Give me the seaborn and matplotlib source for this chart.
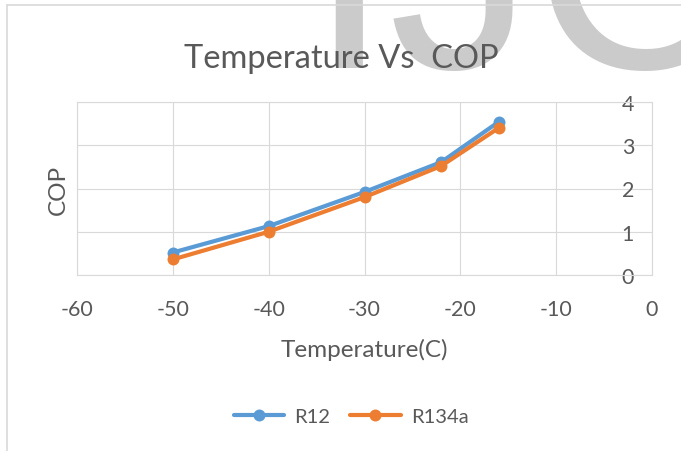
import matplotlib
matplotlib.use("Agg")
import matplotlib.pyplot as plt
from matplotlib.lines import Line2D
import seaborn as sns
import pandas as pd

# ---- data ----
temperature = [-50, -40, -30, -22, -16]
cop_r12 = [0.52, 1.13, 1.92, 2.61, 3.54]
cop_r134a = [0.36, 1.00, 1.80, 2.52, 3.40]
series_names = ["R12", "R134a"]
x_ticks = [-60, -50, -40, -30, -20, -10, 0]
y_ticks = [0, 1, 2, 3, 4]

df = pd.DataFrame({
    "Temperature": temperature * 2,
    "COP": cop_r12 + cop_r134a,
    "Refrigerant": [series_names[0]] * len(temperature) + [series_names[1]] * len(temperature),
})

sns.set_theme(style="white")
plt.rcParams["font.family"] = ["Lato", "Liberation Sans", "DejaVu Sans"]

TXT = "#595959"
GRID = "#d9d9d9"
colors = {"R12": "#5B9BD5", "R134a": "#ED7D31"}

W, H = 681, 452
fig = plt.figure(figsize=(W / 100, H / 100), dpi=100)
fig.patch.set_facecolor("white")

# watermark letters (background)
wm_kw = dict(fontsize=209, color="#cbcbcb", va="baseline", ha="left",
             family=["Liberation Sans", "DejaVu Sans"], zorder=-5)
fig.text(308 / W, 1 - 68 / H, "I", **wm_kw)
fig.text(389 / W, 1 - 68 / H, "J", **wm_kw)
fig.text(532 / W, 1 - 68 / H, "C", **wm_kw)

# chart border
fig.add_artist(Line2D([6.5 / W, 6.5 / W], [0, 1 - 5.5 / H], transform=fig.transFigure, color=GRID, lw=1.2, zorder=2))
fig.add_artist(Line2D([6.5 / W, 1], [1 - 5.5 / H, 1 - 5.5 / H], transform=fig.transFigure, color=GRID, lw=1.2, zorder=2))

ax = fig.add_axes([77 / W, 1 - 276 / H, (652 - 77) / W, (276 - 103) / H])
ax.set_facecolor("none")

sns.lineplot(data=df, x="Temperature", y="COP", hue="Refrigerant", palette=colors,
             marker="o", markersize=8.6, markeredgewidth=0, linewidth=3.0,
             ax=ax, legend=False, zorder=3)

ax.set_xlim(-60, 0)
ax.set_ylim(0, 4)
ax.set_xticks(x_ticks)
ax.set_yticks(y_ticks)
ax.set_xticklabels([str(v) for v in x_ticks])
ax.set_yticklabels([str(v) for v in y_ticks])
ax.grid(True, color=GRID, lw=0.8)
ax.set_axisbelow(True)
for s in ax.spines.values():
    s.set_color(GRID)
    s.set_linewidth(0.8)

ax.tick_params(axis="x", length=0, pad=17, labelsize=15.5, labelcolor=TXT)
ax.tick_params(axis="y", length=0, left=False, right=False, labelleft=False, labelright=True,
               pad=-17.3, labelsize=15.5, labelcolor=TXT)
for lab in ax.get_yticklabels():
    lab.set_ha("center")

ax.set_xlabel("Temperature(C)", fontsize=17.5, color=TXT, labelpad=14)
ax.set_ylabel("COP", fontsize=17.5, color=TXT, labelpad=6)
ax.yaxis.set_label_position("left")

fig.text(341 / W, 1 - 68 / H, "Temperature Vs  COP", fontsize=23.5, color=TXT,
         ha="center", va="baseline", zorder=3)

handles = [Line2D([], [], color=colors[n], marker="o", markersize=8.6, markeredgewidth=0, lw=3.0)
           for n in series_names]
fig.legend(handles, series_names, loc="center", bbox_to_anchor=(351 / W, 1 - 417 / H),
           ncol=2, frameon=False, fontsize=14.5, labelcolor=TXT,
           handlelength=2.5, handletextpad=0.5, columnspacing=1.0)

fig.savefig("out.png", dpi=100, facecolor="white")
